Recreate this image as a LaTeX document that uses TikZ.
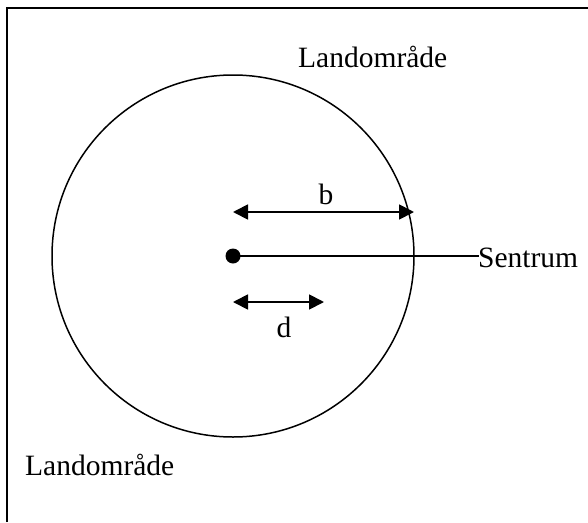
\documentclass[tikz,border=0pt]{standalone}
\usepackage{fontspec}
\setmainfont{Liberation Serif}
\usetikzlibrary{arrows.meta}
\begin{document}
\begin{tikzpicture}[x=1pt,y=-1pt,
  lbl/.style={inner sep=0pt,anchor=base west,font=\fontsize{29.5}{34}\selectfont},
  dim/.style={line width=1.8pt,{Triangle[length=15pt,width=15pt]}-{Triangle[length=15pt,width=15pt]}}]
\useasboundingbox (0,0) rectangle (588,522);
% frame (top and left edges only)
\draw[line width=2.2pt] (7,522) -- (7,8) -- (588,8);
% circle
\coordinate (c) at (233,256);
\draw[line width=1.5pt] (c) circle[radius=181];
% centre dot and radius line
\fill (c) circle[radius=7.5];
\node[lbl] (sentrum) at (478,267) {Sentrum};
\coordinate (lend) at (479,256);
\draw[line width=1.5pt] (c) -- (lend);
% b dimension
\coordinate (b1) at (233,212);
\coordinate (b2) at (414,212);
\draw[dim] (b1) -- (b2);
\node[inner sep=0pt,anchor=base,font=\fontsize{29.5}{34}\selectfont] (blabel) at (326,204) {b};
% d dimension
\coordinate (d1) at (233,302);
\coordinate (d2) at (324,302);
\draw[dim] (d1) -- (d2);
\node[inner sep=0pt,anchor=base,font=\fontsize{29.5}{34}\selectfont] (dlabel) at (284,337) {d};
% labels
\node[lbl] (land1) at (298,67) {Landområde};
\node[lbl] (land2) at (25,475) {Landområde};
\end{tikzpicture}
\end{document}
